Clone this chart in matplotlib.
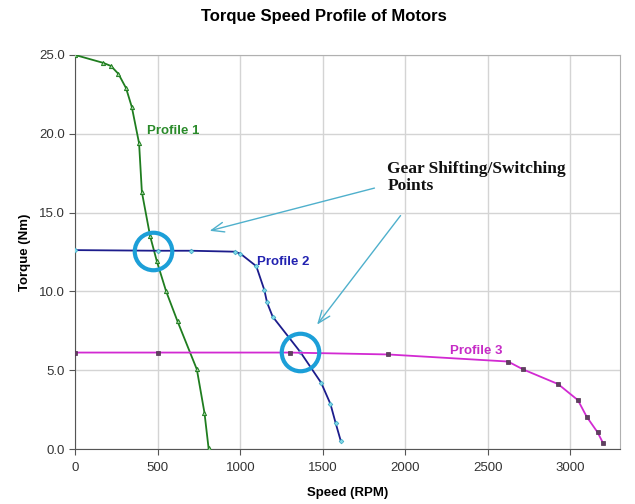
import matplotlib.pyplot as plt

plt.rcParams['font.family'] = ['Liberation Sans', 'DejaVu Sans']

# torque (Nm) vs speed (RPM) for the three motor profiles
speed1 = [0, 170, 217, 262, 308, 343, 387, 404, 454, 495, 551, 620, 737, 783, 808]
torque1 = [25.0, 24.5, 24.3, 23.8, 22.9, 21.7, 19.4, 16.3, 13.5, 11.9, 10.0, 8.1, 5.05, 2.3, 0.05]

speed2 = [0, 501, 703, 966, 1000, 1097, 1146, 1162, 1196, 1364, 1490, 1546, 1578, 1609]
torque2 = [12.62, 12.58, 12.58, 12.52, 12.4, 11.6, 10.08, 9.3, 8.4, 6.15, 4.2, 2.86, 1.63, 0.5]

speed3 = [0, 501, 1299, 1894, 2622, 2713, 2925, 3045, 3098, 3164, 3198]
torque3 = [6.12, 6.12, 6.12, 6.0, 5.55, 5.05, 4.12, 3.1, 2.05, 1.06, 0.36]

# gear shifting points (where the profiles cross)
shift_speed = [474, 1360]
shift_torque = [12.57, 6.17]

fig = plt.figure(figsize=(6.35, 5.04), dpi=100)
ax = fig.add_axes([0.1184, 0.1091, 0.8580, 0.7818])

ax.plot(speed1, torque1, color='#1f7d1f', lw=1.3, marker='^', ms=3,
        mfc='#9fd49f', mec='#1f7d1f', mew=0.7, zorder=3)
ax.plot(speed2, torque2, color='#1c1c8c', lw=1.3, marker='D', ms=2.4,
        mfc='#7fd8e8', mec='#3aa8c0', mew=0.5, zorder=3)
ax.plot(speed3, torque3, color='#d22ad2', lw=1.3, marker='s', ms=3,
        mfc='#604060', mec='#503050', mew=0.5, zorder=3)

ax.text(593, 20.2, 'Profile 1', color='#2a8a2a', fontsize=9.5, fontweight='bold',
        ha='center', va='center')
ax.text(1258, 11.86, 'Profile 2', color='#2222b0', fontsize=9.5, fontweight='bold',
        ha='center', va='center')
ax.text(2432, 6.25, 'Profile 3', color='#c62cc6', fontsize=9.5, fontweight='bold',
        ha='center', va='center')

# circles around the switching points
ax.plot(shift_speed, shift_torque, ls='none', marker='o', ms=27, mfc='none',
        mec='#1c9fd8', mew=3, zorder=4)

ax.text(1890, 17.25, 'Gear Shifting/Switching\nPoints', family=['Liberation Serif', 'DejaVu Serif'],
        fontsize=12.5, fontweight='bold', color='#111111', ha='left', va='center',
        linespacing=1.1)
ax.annotate('', xy=(798, 13.8), xytext=(1829, 16.6),
            arrowprops=dict(arrowstyle='->,head_length=0.9,head_width=0.35',
                            color='#4fb0cc', lw=1))
ax.annotate('', xy=(1455, 7.75), xytext=(1981, 14.95),
            arrowprops=dict(arrowstyle='->,head_length=0.9,head_width=0.35',
                            color='#4fb0cc', lw=1))

ax.set_xlim(0, 3300)
ax.set_ylim(0, 25)
ax.set_xticks([0, 500, 1000, 1500, 2000, 2500, 3000])
ax.set_yticks([0, 5, 10, 15, 20, 25])
ax.set_yticklabels(['0.0', '5.0', '10.0', '15.0', '20.0', '25.0'])
ax.grid(True, color='#d4d4d4', lw=1)
ax.set_axisbelow(True)
ax.tick_params(labelsize=9.5, labelcolor='#333333', color='#555555', length=4, direction='out')
ax.tick_params(axis='x', pad=5)

for side in ['left', 'bottom']:
    ax.spines[side].set_color('#555555')
for side in ['top', 'right']:
    ax.spines[side].set_color('#b0b0b0')

fig.text(0.51, 0.968, 'Torque Speed Profile of Motors', fontsize=12, fontweight='bold',
         ha='center', va='center')
ax.set_xlabel('Speed (RPM)', fontsize=9.5, fontweight='bold', labelpad=10)
ax.set_ylabel('Torque (Nm)', fontsize=9.5, fontweight='bold', labelpad=6)

fig.savefig('out.png', dpi=100)
